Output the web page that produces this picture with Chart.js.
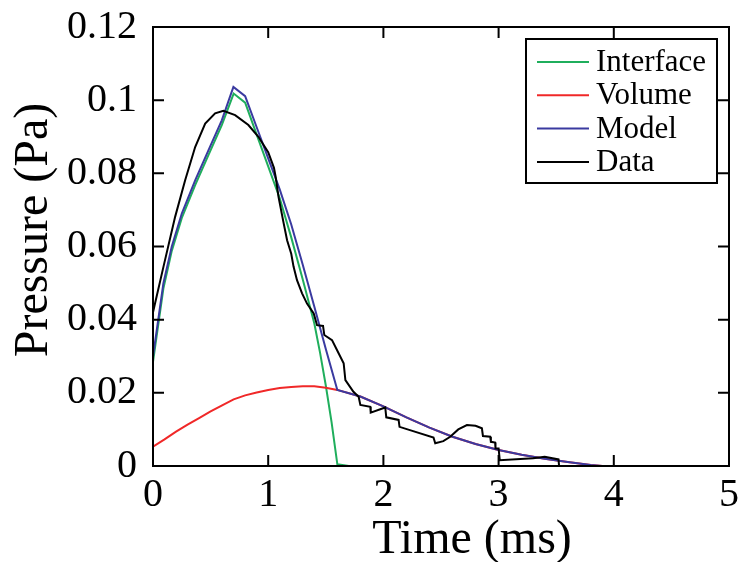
<!DOCTYPE html>
<html>
<head>
<meta charset="utf-8">
<script src="https://cdn.jsdelivr.net/npm/chart.js@4.4.0/dist/chart.umd.min.js"></script>
<style>
  body { margin: 0; background: #fff; }
</style>
</head>
<body>
<canvas id="pressureChart" width="740" height="562"></canvas>
<script>
// values (time in ms, pressure in Pa)
const interfaceT = [0, 0.09, 0.163, 0.25, 0.366, 0.481, 0.597, 0.70, 0.80, 0.9, 1.0, 1.1, 1.2, 1.3, 1.4, 1.45, 1.5, 1.55, 1.6, 1.7];
const interfaceP = [0.0285, 0.0485, 0.0588, 0.0678, 0.0768, 0.0850, 0.0932, 0.1018, 0.0993, 0.0906, 0.0819, 0.0732, 0.0625, 0.0510, 0.0390, 0.031, 0.022, 0.012, 0.0005, 0];

const volumeT = [0, 0.1, 0.2, 0.3, 0.4, 0.5, 0.6, 0.7, 0.8, 0.9, 1.0, 1.1, 1.2, 1.3, 1.4, 1.5, 1.6, 1.8, 2.0, 2.2, 2.4, 2.6, 2.8, 3.0, 3.2, 3.4, 3.6, 3.8, 3.9];
const volumeP = [0.0053, 0.0073, 0.0094, 0.0113, 0.0131, 0.0149, 0.0166, 0.0182, 0.0193, 0.0201, 0.0208, 0.0213, 0.0216, 0.0218, 0.0218, 0.0214, 0.0208, 0.0190, 0.0163, 0.0133, 0.0105, 0.0080, 0.0060, 0.0044, 0.0031, 0.0020, 0.0011, 0.0003, 0];

const modelT = [0, 0.09, 0.163, 0.25, 0.366, 0.481, 0.597, 0.698, 0.80, 0.9, 1.0, 1.1, 1.2, 1.3, 1.4, 1.5, 1.6, 1.8, 2.0, 2.2, 2.4, 2.6, 2.8, 3.0, 3.2, 3.4, 3.6, 3.8, 3.9];
const modelP = [0.0299, 0.0499, 0.0600, 0.0690, 0.0781, 0.0863, 0.0945, 0.1036, 0.1011, 0.0926, 0.0841, 0.0756, 0.0660, 0.0550, 0.0436, 0.0320, 0.0208, 0.0190, 0.0163, 0.0133, 0.0105, 0.0080, 0.0060, 0.0044, 0.0031, 0.0020, 0.0011, 0.0003, 0];

const dataT = [0, 0.091, 0.192, 0.279, 0.366, 0.453, 0.539, 0.611, 0.713, 0.828, 0.915, 1.0, 1.05, 1.065, 1.09, 1.13, 1.164, 1.2, 1.22, 1.25,
    1.294, 1.337, 1.395, 1.424, 1.476, 1.487, 1.554, 1.597, 1.655, 1.67, 1.74, 1.785, 1.80, 1.886, 1.89, 2.016, 2.025, 2.132, 2.14, 2.435,
    2.45, 2.52, 2.58, 2.65, 2.725, 2.80, 2.855, 2.864, 2.927, 2.933, 2.97, 2.973, 3.0, 3.01, 3.30, 3.40, 3.52, 3.525];
const dataP = [0.042, 0.0545, 0.0681, 0.0781, 0.0872, 0.0936, 0.0964, 0.0971, 0.0959, 0.0932, 0.0900, 0.0858, 0.0815, 0.0790, 0.0735, 0.0670, 0.0617, 0.0580, 0.0545, 0.0508,
    0.0472, 0.0444, 0.0417, 0.0385, 0.0383, 0.0358, 0.0344, 0.0317, 0.0281, 0.0235, 0.0203, 0.0189, 0.0167, 0.0162, 0.0146, 0.0160, 0.0133, 0.0126, 0.0107, 0.0078,
    0.0062, 0.0068, 0.0080, 0.0100, 0.0112, 0.0110, 0.0103, 0.0082, 0.0080, 0.0066, 0.0064, 0.0048, 0.0048, 0.0016, 0.0021, 0.0025, 0.0018, 0];

const seriesNames = ['Interface', 'Volume', 'Model', 'Data'];
const seriesColors = ['#1fae5c', '#f02828', '#3a3aa0', '#000000'];
const xTickMax = 5;
const yTickMax = 0.12;

const serif = "'Liberation Serif', 'Times New Roman', serif";

function points(t, p) {
    return t.map((v, i) => ({ x: v, y: p[i] }))
}

// box, inward ticks on all four sides
const framePlugin = {
    id: 'frame',
    afterDatasetsDraw(chart) {
        const ctx = chart.ctx
        const a = chart.chartArea
        const tl = 11
        ctx.save()
        ctx.strokeStyle = '#000'
        ctx.lineWidth = 2
        ctx.strokeRect(a.left, a.top, a.right - a.left, a.bottom - a.top)
        ctx.beginPath()
        chart.scales.x.ticks.forEach(t => {
            const p = chart.scales.x.getPixelForValue(t.value)
            ctx.moveTo(p, a.bottom); ctx.lineTo(p, a.bottom - tl)
            ctx.moveTo(p, a.top); ctx.lineTo(p, a.top + tl)
        })
        chart.scales.y.ticks.forEach(t => {
            const p = chart.scales.y.getPixelForValue(t.value)
            ctx.moveTo(a.left, p); ctx.lineTo(a.left + tl, p)
            ctx.moveTo(a.right, p); ctx.lineTo(a.right - tl, p)
        })
        ctx.stroke()
        ctx.restore()
    }
}

// legend box inside the plot + axis titles
const decorPlugin = {
    id: 'decor',
    afterDraw(chart) {
        const ctx = chart.ctx
        const a = chart.chartArea
        ctx.save()

        const w = 191, h = 144
        const bx = a.right - 12 - w, by = a.top + 12
        ctx.fillStyle = '#fff'
        ctx.fillRect(bx, by, w, h)
        ctx.strokeStyle = '#000'
        ctx.lineWidth = 2
        ctx.strokeRect(bx, by, w, h)
        ctx.font = '31px ' + serif
        ctx.textBaseline = 'middle'
        ctx.textAlign = 'left'
        chart.data.datasets.forEach((ds, i) => {
            const cy = by + 23 + i * 33.3
            ctx.strokeStyle = ds.borderColor
            ctx.beginPath()
            ctx.moveTo(bx + 11, cy)
            ctx.lineTo(bx + 63, cy)
            ctx.stroke()
            ctx.fillStyle = '#000'
            ctx.fillText(ds.label, bx + 70, cy + 1)
        })

        ctx.fillStyle = '#000'
        ctx.font = '48px ' + serif
        ctx.textBaseline = 'alphabetic'
        ctx.textAlign = 'center'
        ctx.fillText('Time (ms)', 472, 553)

        ctx.translate(47, 230)
        ctx.rotate(-Math.PI / 2)
        ctx.fillText('Pressure (Pa)', 0, 0)
        ctx.restore()
    }
}

const seriesData = [
    points(interfaceT, interfaceP),
    points(volumeT, volumeP),
    points(modelT, modelP),
    points(dataT, dataP),
]

// first dataset is painted last, so keep Data/Model on top via order
const drawOrder = [3, 2, 1, 0]

const config = {
    type: 'line',
    data: {
        datasets: seriesNames.map((name, i) => ({
            label: name,
            data: seriesData[i],
            borderColor: seriesColors[i],
            borderWidth: 2,
            pointRadius: 0,
            fill: false,
            tension: 0,
            order: drawOrder[i],
        }))
    },
    options: {
        responsive: false,
        animation: false,
        layout: { padding: { top: 27, right: 11, left: 0, bottom: 0 } },
        plugins: {
            legend: { display: false },
            tooltip: { enabled: false },
        },
        scales: {
            x: {
                type: 'linear',
                min: 0,
                max: xTickMax,
                grid: { display: false, drawTicks: false },
                border: { display: false },
                ticks: {
                    stepSize: 1,
                    padding: 5,
                    color: '#000',
                    maxRotation: 0,
                    font: { family: serif, size: 40 },
                },
                afterFit(scale) {
                    scale.height = 96
                    scale.paddingLeft = 0
                    scale.paddingRight = 0
                },
            },
            y: {
                type: 'linear',
                min: 0,
                max: yTickMax,
                grid: { display: false, drawTicks: false },
                border: { display: false },
                ticks: {
                    stepSize: 0.02,
                    padding: 16,
                    color: '#000',
                    font: { family: serif, size: 40 },
                    callback: v => String(+v.toFixed(2)),
                },
                afterFit(scale) {
                    scale.width = 153
                    scale.paddingTop = 0
                    scale.paddingBottom = 0
                },
            },
        },
    },
    plugins: [framePlugin, decorPlugin],
}

const myChart = new Chart(document.getElementById('pressureChart'), config)
</script>
</body>
</html>
